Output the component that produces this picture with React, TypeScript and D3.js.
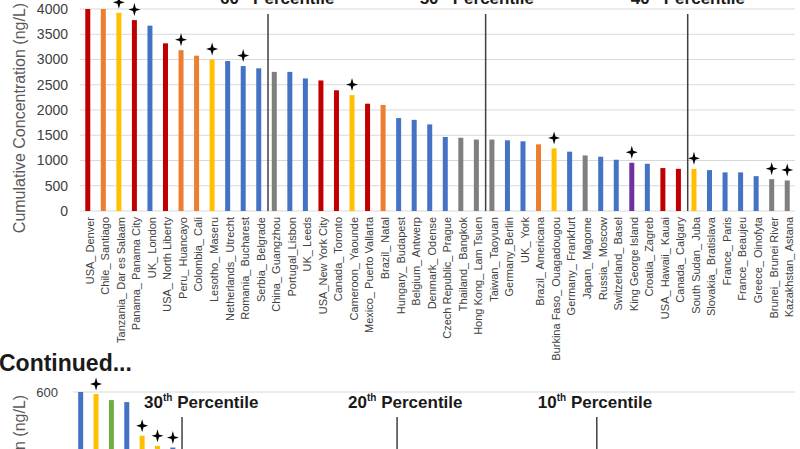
import React from "react";
import * as d3 from "d3";

const categories = [
  "USA_ Denver", "Chile_ Santiago", "Tanzania_ Dar es Salaam", "Panama_ Panama City", "UK_ London",
  "USA_ North Liberty", "Peru_ Huancayo", "Colombia_ Cali", "Lesotho_ Maseru", "Netherlands_ Utrecht",
  "Romania_ Bucharest", "Serbia_ Belgrade", "China_ Guangzhou", "Portugal_Lisbon", "UK_ Leeds",
  "USA_New York City", "Canada_ Toronto", "Cameroon_ Yaounde", "Mexico_ Puerto Vallarta", "Brazil_ Natal",
  "Hungary_ Budapest", "Belgium_ Antwerp", "Denmark_ Odense", "Czech Republic_ Prague", "Thailand_ Bangkok",
  "Hong Kong_ Lam Tsuen", "Taiwan_ Taoyuan", "Germany_Berlin", "UK_ York", "Brazil_ Americana",
  "Burkina Faso_ Ouagadougou", "Germany_ Frankfurt", "Japan_ Magome", "Russia_ Moscow", "Switzerland_ Basel",
  "King George Island", "Croatia_ Zagreb", "USA_ Hawaii_ Kauai", "Canada_ Calgary", "South Sudan_ Juba",
  "Slovakia_ Bratislava", "France_ Paris", "France_ Beaujeu", "Greece_ Oinofyta", "Brunei_ Brunei River",
  "Kazakhstan_ Astana",
];

const values = [
  4000, 4000, 3925, 3780, 3670, 3320, 3185, 3075, 3000, 2970,
  2870, 2825, 2755, 2755, 2625, 2585, 2390, 2295, 2125, 2100,
  1840, 1805, 1715, 1465, 1450, 1415, 1415, 1400, 1380, 1320,
  1240, 1175, 1100, 1075, 1015, 955, 935, 850, 835, 835,
  810, 765, 765, 690, 630, 605,
];

const regions = [
  "NA", "SA", "AF", "NA", "EU", "NA", "SA", "SA", "AF", "EU",
  "EU", "EU", "AS", "EU", "EU", "NA", "NA", "AF", "NA", "SA",
  "EU", "EU", "EU", "EU", "AS", "AS", "AS", "EU", "EU", "SA",
  "AF", "EU", "AS", "EU", "EU", "AN", "EU", "NA", "NA", "AF",
  "EU", "EU", "EU", "EU", "AS", "AS",
];

const starred = [
  "Tanzania_ Dar es Salaam", "Panama_ Panama City", "Peru_ Huancayo", "Lesotho_ Maseru",
  "Romania_ Bucharest", "Cameroon_ Yaounde", "Burkina Faso_ Ouagadougou", "King George Island",
  "South Sudan_ Juba", "Brunei_ Brunei River", "Kazakhstan_ Astana",
];

const yTicks = [0, 500, 1000, 1500, 2000, 2500, 3000, 3500, 4000];

// percentile markers (boundary index = number of bars to the left)
const topPercentiles = ["60", "50", "40"];
const topBoundaries = [12, 26, 39];

// continued panel (only the first bars are visible)
const contCount = 47;
const contValues = [600, 594, 576, 570, 470, 440, 435];
const contRegions = ["EU", "AF", "OC", "EU", "AF", "AF", "EU"];
const contStarred = [1, 4, 5, 6];
const contTicks = [0, 200, 400, 600];
const contPercentiles = ["30", "20", "10"];
const contBoundaries = [7, 21, 34];

const regionDomain = ["NA", "SA", "AF", "EU", "AS", "AN", "OC"];
const regionColors = ["#C00000", "#ED7D31", "#FFC000", "#4472C4", "#7F7F7F", "#7030A0", "#70AD47"];

const FONT = "'Liberation Sans', Arial, sans-serif";

function starPath(): string {
  const ry = 6.5, rx = 6, r = 1.4;
  const pts: [number, number][] = [
    [0, -ry], [r, -r], [rx, 0], [r, r], [0, ry], [-r, r], [-rx, 0], [-r, -r],
  ];
  return d3.line().curve(d3.curveLinearClosed)(pts) || "";
}

export default function App() {
  const W = 800, H = 449;
  const color = d3.scaleOrdinal<string, string>().domain(regionDomain).range(regionColors);
  const star = starPath();

  // top panel
  const x = d3.scaleBand<string>().domain(categories).range([80, 795]).padding(0);
  const y = d3.scaleLinear().domain([0, 4000]).range([211, 9]);
  const barW = 5;

  // continued panel
  const contIdx = d3.range(contCount).map(String);
  const x2 = d3.scaleBand<string>().domain(contIdx).range([73, 795]).padding(0);
  const y2 = d3.scaleLinear().domain([0, 600]).range([594, 392]);

  const topLabelDx = [-48, -66, -57];
  const contLabelDx = [-38, -49, -59];

  return (
    <svg width={W} height={H} style={{ position: "absolute", left: 0, top: 0, background: "#fff" }} fontFamily={FONT}>
      <rect width={W} height={H} fill="#fff" />
      {/* top gridlines */}
      {yTicks.map((t) => (
        <g key={"g" + t}>
          <line x1={80} x2={795} y1={y(t)} y2={y(t)} stroke="#D9D9D9" strokeWidth={1.2} />
          <text x={68} y={y(t)} dy="0.35em" textAnchor="end" fontSize={14} fill="#404040">{t}</text>
        </g>
      ))}
      <text transform={`translate(25,118) rotate(-90)`} textAnchor="middle" fontSize={16} fill="#595959">
        Cumulative Concentration (ng/L)
      </text>
      {/* bars */}
      {categories.map((c, i) => {
        const cx = (x(c) as number) + x.bandwidth() / 2;
        return (
          <g key={c}>
            <rect x={cx - barW / 2} y={y(values[i])} width={barW} height={y(0) - y(values[i])} fill={color(regions[i])} />
            {starred.includes(c) && (
              <path d={star} transform={`translate(${cx},${y(values[i]) - 10.5})`} fill="#000" />
            )}
            <text transform={`translate(${cx + 2},217) rotate(-90)`} textAnchor="end" dy="0.35em" fontSize={11} fill="#404040">
              {c}
            </text>
          </g>
        );
      })}
      {/* top percentile lines */}
      {topPercentiles.map((p, k) => {
        const lx = 80 + x.step() * topBoundaries[k] + 1.5;
        return (
          <g key={"p" + p}>
            <line x1={lx} x2={lx} y1={14} y2={y(0)} stroke="#404040" strokeWidth={1.5} />
            <text x={lx + topLabelDx[k]} y={4} fontSize={17} fontWeight="bold" fill="#1a1a1a">
              <tspan>{p}</tspan>
              <tspan fontSize={10} dy={-7}>th</tspan>
              <tspan dy={7}> Percentile</tspan>
            </text>
          </g>
        );
      })}

      {/* continued panel */}
      <text x={-1} y={371} fontSize={23} fontWeight="bold" fill="#1a1a1a">Continued...</text>
      {contTicks.map((t) => (
        <g key={"c" + t}>
          <line x1={73} x2={795} y1={y2(t)} y2={y2(t)} stroke="#D9D9D9" strokeWidth={1.2} />
          <text x={58} y={y2(t)} dy="0.35em" textAnchor="end" fontSize={13} fill="#404040">{t}</text>
        </g>
      ))}
      <text transform={`translate(25,510) rotate(-90)`} textAnchor="middle" fontSize={16} fill="#595959">
        Cumulative Concentration (ng/L)
      </text>
      {contValues.map((v, i) => {
        const cx = (x2(String(i)) as number) + x2.bandwidth() / 2;
        return (
          <g key={"cb" + i}>
            <rect x={cx - barW / 2} y={y2(v)} width={barW} height={y2(0) - y2(v)} fill={color(contRegions[i])} />
            {contStarred.includes(i) && (
              <path d={star} transform={`translate(${cx},${y2(v) - 10})`} fill="#000" />
            )}
          </g>
        );
      })}
      {contPercentiles.map((p, k) => {
        const lx = 73 + x2.step() * contBoundaries[k] + 1.5;
        return (
          <g key={"cp" + p}>
            <line x1={lx} x2={lx} y1={417} y2={y2(0)} stroke="#404040" strokeWidth={1.5} />
            <text x={lx + contLabelDx[k]} y={408} fontSize={17} fontWeight="bold" fill="#1a1a1a">
              <tspan>{p}</tspan>
              <tspan fontSize={10} dy={-7}>th</tspan>
              <tspan dy={7}> Percentile</tspan>
            </text>
          </g>
        );
      })}
    </svg>
  );
}
